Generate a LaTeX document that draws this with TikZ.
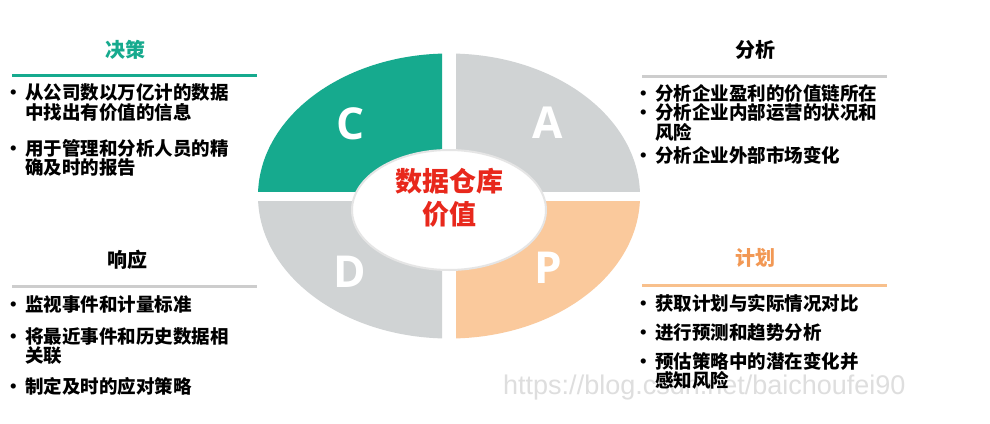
\documentclass[tikz,border=0pt]{standalone}
\usepackage{fontspec}
\setmainfont{Noto Sans CJK SC}
\newfontfamily\letterfont{Open Sans}
\newfontfamily\markfont{Liberation Sans}
\usetikzlibrary{positioning}
\definecolor{cteal}{RGB}{22,170,142}
\definecolor{cgray}{RGB}{208,211,212}
\definecolor{corange}{RGB}{250,201,156}
\definecolor{cred}{RGB}{232,40,28}
\definecolor{horange}{RGB}{242,152,84}
\definecolor{rulegray}{RGB}{205,205,205}
\definecolor{ruleorange}{RGB}{248,192,140}
\newcommand\bul{\makebox[21pt][l]{•}}
\newcommand\hang{\hspace*{21pt}}

\begin{document}
\begin{tikzpicture}[x=1pt, y=-1pt,
        head/.style={font=\fontsize{20}{22}\selectfont\bfseries},
        item/.style={anchor=west, align=left, inner sep=0pt, font=\fontsize{18.5}{19.5}\selectfont\bfseries},
        rule/.style={line width=3pt},
        letter/.style={text=white, font=\letterfont\fontsize{44}{44}\selectfont\bfseries},
        core/.style={text=cred, align=center, font=\fontsize{27}{33}\selectfont\bfseries}
    ]
        \useasboundingbox[fill=white] (0,0) rectangle (990,423);

        % four quarters of the ring
        \foreach \xa/\ya/\xb/\yb/\col in {0/0/442/191/cteal, 456/0/990/191/cgray, 0/201/442/423/cgray, 456/201/990/423/corange} {
            \begin{scope}
                \clip (\xa,\ya) rectangle (\xb,\yb);
                \fill[\col] (449,196) ellipse [x radius=191, y radius=142.5];
            \end{scope}
        }
        \draw[draw=gray!20, line width=2pt, fill=white] (449,210) ellipse [x radius=97, y radius=60];
        \node[core] (value) at (449,198) {数据仓库\\价值};

        \node[letter] (c) at (351,124) {C};
        \node[letter] (a) at (548,123) {A};
        \node[letter] (d) at (350,272) {D};
        \node[letter] (p) at (548,268) {P};

        % headings and rules
        \node[head, text=cteal] (decide) at (125,50) {决策};
        \node[head] (analyse) at (755,50) {分析};
        \node[head] (respond) at (127,260) {响应};
        \node[head, text=horange] (plan) at (755,258) {计划};
        \draw[rule, cteal] (12,75) -- (257,75);
        \draw[rule, rulegray] (642,76) -- (887,76);
        \draw[rule, rulegray] (12,286) -- (257,286);
        \draw[rule, ruleorange] (642,285) -- (887,285);

        \node[font=\markfont\fontsize{27}{27}\selectfont, text=black!13, anchor=west, inner sep=0pt] (mark) at (503,388) {https://blog.csdn.net/baichoufei90};

        % bullet lists
        \node[item] (c1) at (4,102.5) {\bul 从公司数以万亿计的数据\\\hang 中找出有价值的信息};
        \node[item] (c2) at (4,158) {\bul 用于管理和分析人员的精\\\hang 确及时的报告};

        \node[item] (a1) at (634,93) {\bul 分析企业盈利的价值链所在};
        \node[item] (a2) at (634,122.5) {\bul 分析企业内部运营的状况和\\\hang 风险};
        \node[item] (a3) at (634,155) {\bul 分析企业外部市场变化};

        \node[item] (d1) at (4,305) {\bul 监视事件和计量标准};
        \node[item] (d2) at (4,346) {\bul 将最近事件和历史数据相\\\hang 关联};
        \node[item] (d3) at (4,386) {\bul 制定及时的应对策略};

        \node[item] (p1) at (634,303) {\bul 获取计划与实际情况对比};
        \node[item] (p2) at (634,333) {\bul 进行预测和趋势分析};
        \node[item] (p3) at (634,371) {\bul 预估策略中的潜在变化并\\\hang 感知风险};
    \end{tikzpicture}
\end{document}
